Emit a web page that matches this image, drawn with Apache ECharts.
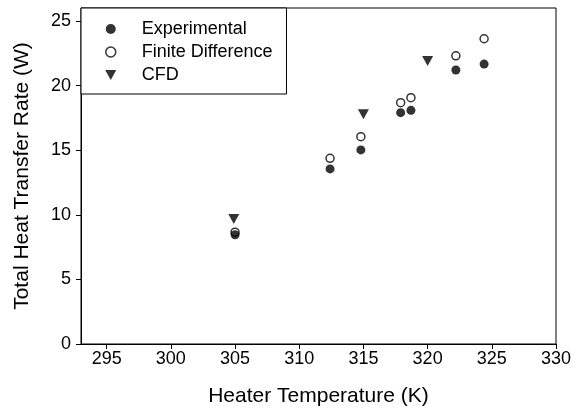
<!DOCTYPE html>
<html>
<head>
<meta charset="utf-8">
<script src="https://cdn.jsdelivr.net/npm/echarts@6/dist/echarts.min.js"></script>
<style>
  html, body { margin: 0; padding: 0; background: #fff; }
  #chart { width: 582px; height: 412px; }
</style>
</head>
<body>
<div id="chart"></div>
<script>
// heater temperature (K) and total heat transfer rate (W)
const expTemp = [305.0, 312.4, 314.8, 317.9, 318.7, 322.2, 324.4];
const expRate = [8.45, 13.55, 15.02, 17.9, 18.08, 21.2, 21.66];
const fdTemp = [305.0, 312.4, 314.8, 317.9, 318.7, 322.2, 324.4];
const fdRate = [8.65, 14.37, 16.04, 18.67, 19.06, 22.3, 23.62];
const cfdTemp = [304.9, 315.0, 320.0];
const cfdRate = [9.68, 17.77, 21.9];
const xTicks = [295, 300, 305, 310, 315, 320, 325, 330];
const yTicks = [0, 5, 10, 15, 20, 25];

const pairs = (xs, ys) => xs.map((x, i) => [x, ys[i]]);
const font = "Liberation Sans, Arial, sans-serif";
const triDown = "path://M0,0 L10,0 L5,9 Z";

const chart = echarts.init(document.getElementById("chart"));

chart.setOption({
  animation: false,
  backgroundColor: "#fff",
  textStyle: { fontFamily: font, color: "#000" },
  grid: {
    left: 81,
    right: 26,
    top: 8,
    bottom: 68,
    show: true,
    borderColor: "#000",
    borderWidth: 1,
  },
  legend: {
    orient: "vertical",
    left: 81,
    top: 8,
    backgroundColor: "#fff",
    borderColor: "#000",
    borderWidth: 1,
    borderRadius: 0,
    padding: [12, 14, 10, 24],
    itemWidth: 14,
    itemHeight: 10,
    itemGap: 5,
    textStyle: {
      fontFamily: font,
      fontSize: 18,
      color: "#000",
      padding: [0, 0, 0, 19],
    },
    data: [
      { name: "Experimental", icon: "circle", itemStyle: { color: "#000" } },
      {
        name: "Finite Difference",
        icon: "circle",
        itemStyle: { color: "#fff", borderColor: "#000", borderWidth: 1.5 },
      },
      { name: "CFD", icon: triDown, itemStyle: { color: "#000" } },
    ],
  },
  xAxis: {
    type: "value",
    min: 293,
    max: 330,
    name: "Heater Temperature (K)",
    nameLocation: "middle",
    nameGap: 42,
    nameTextStyle: { fontFamily: font, fontSize: 21, color: "#000" },
    axisLine: { show: true, lineStyle: { color: "#000", width: 1 } },
    axisTick: {
      show: true,
      inside: false,
      length: 5,
      customValues: xTicks,
      lineStyle: { color: "#000" },
    },
    axisLabel: {
      customValues: xTicks,
      margin: 6,
      fontFamily: font,
      fontSize: 18,
      color: "#000",
    },
    splitLine: { show: false },
  },
  yAxis: {
    type: "value",
    min: 0,
    max: 26,
    name: "Total Heat Transfer Rate (W)",
    nameLocation: "middle",
    nameGap: 48,
    nameTextStyle: { fontFamily: font, fontSize: 21, color: "#000" },
    axisLine: { show: true, lineStyle: { color: "#000", width: 1 } },
    axisTick: {
      show: true,
      inside: false,
      length: 5,
      customValues: yTicks,
      lineStyle: { color: "#000" },
    },
    axisLabel: {
      customValues: yTicks,
      margin: 10,
      fontFamily: font,
      fontSize: 18,
      color: "#000",
    },
    splitLine: { show: false },
  },
  series: [
    {
      name: "Experimental",
      type: "scatter",
      symbol: "circle",
      symbolSize: 9,
      itemStyle: { color: "#000" },
      data: pairs(expTemp, expRate),
      z: 3,
    },
    {
      name: "Finite Difference",
      type: "scatter",
      symbol: "circle",
      symbolSize: 8,
      itemStyle: { color: "#fff", borderColor: "#000", borderWidth: 1.5 },
      data: pairs(fdTemp, fdRate),
      z: 2,
    },
    {
      name: "CFD",
      type: "scatter",
      symbol: triDown,
      symbolSize: [11, 10],
      itemStyle: { color: "#000" },
      data: pairs(cfdTemp, cfdRate),
      z: 3,
    },
  ],
});
</script>
</body>
</html>
